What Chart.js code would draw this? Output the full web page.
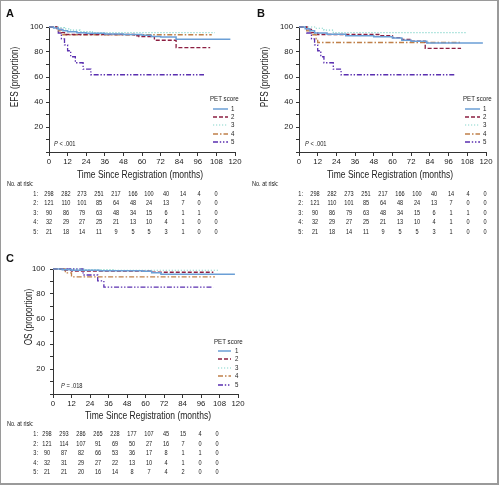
<!DOCTYPE html>
<html>
<head>
<meta charset="utf-8">
<script src="https://cdn.jsdelivr.net/npm/chart.js@4/dist/chart.umd.min.js"></script>
<style>
  html,body{margin:0;padding:0;background:#fff;}
  #wrap{position:relative;width:499px;height:485px;overflow:hidden;background:#fff;
        font-family:'Liberation Sans Narrow','Liberation Sans',Arial,sans-serif;color:#222;}
  #frame{position:absolute;left:0;top:0;width:499px;height:485px;box-sizing:border-box;
         border:1px solid #9a9a9a;border-right:2px solid #9a9a9a;border-bottom:2px solid #9a9a9a;pointer-events:none;}
  canvas{position:absolute;}
  .t{position:absolute;white-space:nowrap;line-height:1;}
  .lbl{font-family:'Liberation Sans',Arial,sans-serif;font-weight:bold;font-size:11px;color:#111;}
  .ytitle{font-size:10px;transform:translate(-50%,-50%) rotate(-90deg) scaleX(.82);}
  .xtitle{font-size:10.4px;transform:translate(-50%,-50%) scaleX(.82);}
  .L{transform-origin:left center;transform:translateY(-50%) scaleX(.82);}
  .C{transform:translate(-50%,-50%) scaleX(.82);}
  .R{transform-origin:right center;transform:translate(-100%,-50%) scaleX(.82);}
  .risk{font-size:6.8px;}
  .leg{font-size:7.5px;}
  .pv{font-size:7px;}
</style>
</head>
<body>
<div id="wrap">
  <canvas id="cA" width="250" height="182" style="left:0;top:0;width:250px;height:182px"></canvas>
  <canvas id="cB" width="249" height="182" style="left:250px;top:0;width:249px;height:182px"></canvas>
  <canvas id="cC" width="250" height="184" style="left:0;top:240px;width:250px;height:184px"></canvas>
  <div id="frame"></div>
</div>
<script>
// ---------------- data ----------------
const timeTicks = [0, 12, 24, 36, 48, 60, 72, 84, 96, 108, 120];
const petScores = ['1', '2', '3', '4', '5'];

// EFS (panel A): [months, percent]
const efs1 = [[0,100],[3,99.3],[6,98],[9,97],[12,96.3],[18,95.5],[24,95],[36,94.5],[48,94],[60,93.5],[66,92.5],[72,92],[82,90.2],[117,90.2]];
const efs2 = [[0,100],[5,98],[8,95.5],[10,94],[48,94],[55,93],[58,92.3],[68,89.4],[81,89.4],[82,83.5],[104,83.5]];
const efs3 = [[0,100],[6,99.5],[10,98.5],[14,97.5],[20,96.3],[28,95.5],[107,95.5]];
const efs4 = [[0,100],[6,96.9],[8,93.8],[105,93.8]];
const efs5 = [[0,100],[6,95.2],[8,90.5],[10,85.7],[12,81],[14,76.2],[17,71.4],[22,66.3],[27,61.8],[100,61.8]];

// PFS (panel B)
const pfs1 = [[0,100],[4,98.7],[7,97],[10,95.3],[18,94.3],[30,93],[48,92.3],[60,91.3],[66,89.5],[72,88.7],[82,87.2],[118,87.2]];
const pfs2 = [[0,100],[5,98],[8,95.5],[12,94],[48,94],[52,93],[60,91.5],[66,90],[72,88.7],[80,88.7],[81,82.9],[104,82.9]];
const pfs3 = [[0,100],[10,99],[16,97.5],[22,95.5],[108,95.5]];
const pfs4 = [[0,100],[5,96.9],[8,93.8],[11,90.6],[12,87.6],[104,87.6]];
const pfs5 = [[0,100],[5,95.2],[8,90.5],[10,85.7],[12,81],[14,76.2],[16,71.4],[22,66.3],[27,61.8],[100,61.8]];

// OS (panel C)
const os1 = [[0,100],[6,99.4],[12,99],[30,98.7],[58,98.2],[64,97],[70,95.8],[118,95.8]];
const os2 = [[0,100],[6,99.2],[12,98.3],[60,98.3],[64,97.4],[104,97.4]];
const os3 = [[0,100],[20,99.5],[40,99],[108,99]];
const os4 = [[0,100],[8,96.9],[12,93.7],[105,93.7]];
const os5 = [[0,100],[19,100],[19.5,95.2],[29,90.5],[33,85.5],[104,85.5]];

// numbers at risk
const riskAB1 = [298,282,273,251,217,166,100,40,14,4,0];
const riskAB2 = [121,110,101,85,64,48,24,13,7,0,0];
const riskAB3 = [90,86,79,63,48,34,15,6,1,1,0];
const riskAB4 = [32,29,27,25,21,13,10,4,1,0,0];
const riskAB5 = [21,18,14,11,9,5,5,3,1,0,0];
const riskC1 = [298,293,286,265,228,177,107,45,15,4,0];
const riskC2 = [121,114,107,91,69,50,27,16,7,0,0];
const riskC3 = [90,87,82,66,53,36,17,8,1,1,0];
const riskC4 = [32,31,29,27,22,13,10,4,1,0,0];
const riskC5 = [21,21,20,16,14,8,7,4,2,0,0];

// ---------------- styles ----------------
const COLORS = ['#6b9fd6', '#8c1f42', '#86d6cc', '#c08049', '#5a2fb0'];
const DASHES = [[], [4,2], [1.2,1.8], [5,2,1.5,2], [5,1.8,1.4,1.8,1.4,1.8]];
const WIDTHS = [1.5, 1.3, 1.2, 1.3, 1.3];
const FAM = "'Liberation Sans',Arial,sans-serif";
const AX = '#333';

function makeChart(id, series, o) {
  return new Chart(document.getElementById(id), {
    type: 'line',
    data: {
      datasets: series.map((s, i) => ({
        label: petScores[i],
        data: s.map(p => ({x: p[0], y: p[1]})),
        stepped: true,
        borderColor: COLORS[i],
        borderDash: DASHES[i],
        borderWidth: WIDTHS[i],
        pointRadius: 0,
        fill: false,
        clip: 4
      }))
    },
    options: {
      responsive: false,
      animation: false,
      devicePixelRatio: 1,
      layout: {padding: o.pad},
      plugins: {legend: {display: false}, tooltip: {enabled: false}},
      scales: {
        x: {
          type: 'linear', min: 0, max: 120,
          afterBuildTicks: s => { s.ticks = timeTicks.map(v => ({value: v})); },
          ticks: {font: {family: FAM, size: 7.8}, color: '#222', padding: 1.5, maxRotation: 0, autoSkip: false},
          grid: {drawOnChartArea: false, drawTicks: true, tickLength: 4, color: AX},
          border: {color: AX, width: 1},
          title: {display: false},
          afterFit: s => { s.height = 30; }
        },
        y: {
          type: 'linear', min: 0, max: 100,
          ticks: {stepSize: 10, font: {family: FAM, size: 7.8}, color: '#222', padding: o.ytp,
                  callback: v => (v > 0 && v % 20 === 0) ? String(v) : ''},
          grid: {drawOnChartArea: false, drawTicks: true, tickLength: 3, color: AX},
          border: {color: AX, width: 1},
          afterFit: s => { s.width = o.yw; }
        }
      }
    }
  });
}

makeChart('cA', [efs1, efs2, efs3, efs4, efs5], {pad: {top: 27, left: 0, right: 15, bottom: 0}, yw: 49, ytp: 3});
makeChart('cB', [pfs1, pfs2, pfs3, pfs4, pfs5], {pad: {top: 27, left: 0, right: 13, bottom: 0}, yw: 49, ytp: 3});
makeChart('cC', [os1, os2, os3, os4, os5], {pad: {top: 29, left: 0, right: 12, bottom: 0}, yw: 53, ytp: 5});

// ---------------- text overlays ----------------
const wrap = document.getElementById('wrap');
const frame = document.getElementById('frame');
function txt(cls, s, x, y) {
  const d = document.createElement('div');
  d.className = 't ' + cls;
  d.innerHTML = s;
  d.style.left = x + 'px';
  d.style.top = y + 'px';
  wrap.insertBefore(d, frame);
  return d;
}

// panel letters
txt('lbl', 'A', 6, 8);
txt('lbl', 'B', 257, 8);
txt('lbl', 'C', 6, 253);

// axis titles
txt('ytitle', 'EFS (proportion)', 14.5, 77);
txt('ytitle', 'PFS (proportion)', 265, 77);
txt('ytitle', 'OS (proportion)', 29, 316.5);
txt('xtitle', 'Time Since Registration (months)', 140, 174.5);
txt('xtitle', 'Time Since Registration (months)', 390, 174.5);
txt('xtitle', 'Time Since Registration (months)', 148, 416);

// p values
txt('pv L', '<i>P</i> &lt; .001', 54, 143);
txt('pv L', '<i>P</i> &lt; .001', 305, 143);
txt('pv L', '<i>P</i> = .018', 61, 385);

// legends
function legend(tx, ty, lx1, lx2, nx, rows) {
  txt('leg L', 'PET score', tx, ty);
  const svgNS = 'http://www.w3.org/2000/svg';
  rows.forEach((ry, i) => {
    const svg = document.createElementNS(svgNS, 'svg');
    svg.setAttribute('width', lx2 - lx1);
    svg.setAttribute('height', 4);
    svg.style.position = 'absolute';
    svg.style.left = lx1 + 'px';
    svg.style.top = (ry - 2) + 'px';
    const ln = document.createElementNS(svgNS, 'line');
    ln.setAttribute('x1', 0); ln.setAttribute('x2', lx2 - lx1);
    ln.setAttribute('y1', 2); ln.setAttribute('y2', 2);
    ln.setAttribute('stroke', COLORS[i]);
    ln.setAttribute('stroke-width', WIDTHS[i]);
    if (DASHES[i].length) ln.setAttribute('stroke-dasharray', DASHES[i].join(' '));
    svg.appendChild(ln);
    wrap.insertBefore(svg, frame);
    txt('leg L', petScores[i], nx, ry);
  });
}
legend(210, 99, 213, 228, 231, [108.7, 117, 125.2, 133.5, 142]);
legend(463, 99, 465, 480, 483, [108.7, 117, 125.2, 133.5, 142]);
legend(214, 342, 218, 231, 235, [351, 359.3, 367.5, 376, 384.7]);

// risk tables
function riskTable(hx, hy, labR, colX0, colStep, rowY, rows) {
  txt('risk L', 'No. at risk:', hx, hy);
  rows.forEach((r, i) => {
    txt('risk R', petScores[i] + ':', labR, rowY[i]);
    r.forEach((v, j) => txt('risk C', String(v), colX0 + j * colStep, rowY[i]));
  });
}
const rowsA = [194, 203.4, 212.8, 222.2, 231.6];
riskTable(7, 184.3, 38, 49, 16.7, rowsA, [riskAB1, riskAB2, riskAB3, riskAB4, riskAB5]);
riskTable(252, 184.3, 303, 315, 17, rowsA, [riskAB1, riskAB2, riskAB3, riskAB4, riskAB5]);
riskTable(7, 424.3, 38, 47, 17, [434.3, 443.7, 453.1, 462.5, 471.9], [riskC1, riskC2, riskC3, riskC4, riskC5]);
</script>
</body>
</html>
